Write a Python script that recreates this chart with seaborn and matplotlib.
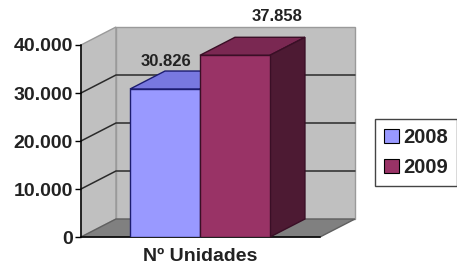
import numpy as np
import pandas as pd
import matplotlib
matplotlib.use("Agg")
import matplotlib.pyplot as plt
import seaborn as sns
from matplotlib.patches import Polygon, Patch
from matplotlib.ticker import FuncFormatter

# ---- data ----
categories = ["Nº Unidades"]
years = ["2008", "2009"]
values = [30826, 37858]
label_texts = ["30.826", "37.858"]
yticks = [0, 10000, 20000, 30000, 40000]

# ---- styles ----
front_colors = ["#9999FF", "#993366"]
top_colors = ["#7878E0", "#7A2852"]
side_colors = ["#6262C0", "#4D1A33"]
edge_colors = ["#1C1C70", "#3A0F26"]
label_offsets_px = [(1, 28), (42, 39)]

sns.set_theme(style="white")
plt.rcParams["font.family"] = ["Liberation Sans", "DejaVu Sans"]

W, H = 457, 270
fig = plt.figure(figsize=(W / 100, H / 100), dpi=100)
ax = fig.add_axes([81 / W, 33 / H, 239 / W, 192 / H])

df = pd.DataFrame({"cat": categories * len(years), "year": years, "value": values})
sns.barplot(data=df, x="cat", y="value", hue="year",
            palette=dict(zip(years, front_colors)), saturation=1,
            width=0.8, ax=ax, legend=False, zorder=5)

x0, x1 = -0.68, 0.686
y0, y1 = yticks[0], yticks[-1]
ax.set_xlim(x0, x1)
ax.set_ylim(y0, y1)
DX = 0.2
DY = (y1 - y0) * 18 / 192

wall = "#C0C0C0"
# side wall
ax.add_patch(Polygon([(x0, y0), (x0, y1), (x0 + DX, y1 + DY), (x0 + DX, y0 + DY)],
                     closed=True, fc=wall, ec="#9A9A9A", lw=1, clip_on=False, zorder=0))
# back wall
ax.add_patch(Polygon([(x0 + DX, y0 + DY), (x0 + DX, y1 + DY), (x1 + DX, y1 + DY), (x1 + DX, y0 + DY)],
                     closed=True, fc=wall, ec="#9A9A9A", lw=1, clip_on=False, zorder=0))
# floor
ax.add_patch(Polygon([(x0, y0), (x1, y0), (x1 + DX, y0 + DY), (x0 + DX, y0 + DY)],
                     closed=True, fc="#808080", ec="#606060", lw=1, clip_on=False, zorder=1))
# gridlines
for t in yticks[1:-1]:
    ax.plot([x0, x0 + DX, x1 + DX], [t, t + DY, t + DY], color="#2a2a2a", lw=1.1,
            clip_on=False, zorder=1)

# 3D faces of the bars
bars = [p for p in ax.patches if p.get_zorder() == 5]
bars = sorted(bars, key=lambda p: p.get_x())
for i, p in enumerate(bars):
    bx, bw, bh = p.get_x(), p.get_width(), p.get_height()
    p.set_edgecolor(edge_colors[i])
    p.set_linewidth(1)
    top = Polygon([(bx, bh), (bx + DX, bh + DY), (bx + bw + DX, bh + DY), (bx + bw, bh)],
                  closed=True, fc=top_colors[i], ec=edge_colors[i], lw=1, clip_on=False, zorder=5 + i)
    side = Polygon([(bx + bw, 0), (bx + bw, bh), (bx + bw + DX, bh + DY), (bx + bw + DX, DY)],
                   closed=True, fc=side_colors[i], ec=edge_colors[i], lw=1, clip_on=False, zorder=5 + i)
    ax.add_patch(top)
    ax.add_patch(side)
    p.set_zorder(6 + i)
    ax.annotate(label_texts[i], xy=(bx + bw / 2, bh),
                xytext=(label_offsets_px[i][0] / 1.389, label_offsets_px[i][1] / 1.389),
                textcoords="offset points", ha="center", va="center", fontsize=12,
                fontweight="bold", color="#222222", zorder=10, annotation_clip=False)

# axes styling
for s in ["top", "right"]:
    ax.spines[s].set_visible(False)
for s in ["left", "bottom"]:
    ax.spines[s].set_color("black")
    ax.spines[s].set_linewidth(1.1)
    ax.spines[s].set_zorder(2)
ax.set_yticks(yticks)
ax.yaxis.set_major_formatter(FuncFormatter(lambda v, _: f"{v:,.0f}".replace(",", ".")))
ax.tick_params(axis="y", direction="out", length=4, width=1, color="black",
               labelsize=14, pad=2, left=True)
ax.tick_params(axis="x", length=0, labelsize=14, pad=8)
for lab in ax.get_yticklabels() + ax.get_xticklabels():
    lab.set_fontweight("bold")
    lab.set_color("#222222")
ax.set_xlabel("")
ax.set_ylabel("")
ax.patch.set_alpha(0)

handles = [Patch(fc=c, ec="black", lw=0.8) for c in front_colors]
leg = fig.legend(handles, years, loc="upper left", bbox_to_anchor=(375 / W, 1 - 119 / H),
                 frameon=True, fancybox=False, framealpha=1, edgecolor="#444444",
                 prop={"size": 14.5, "weight": "bold"}, handlelength=0.75, handleheight=0.75,
                 handletextpad=0.2, borderpad=0.45, labelspacing=0.55, borderaxespad=0)
leg.get_frame().set_linewidth(1)
for t in leg.get_texts():
    t.set_color("#222222")

fig.savefig("out.png", dpi=100)
